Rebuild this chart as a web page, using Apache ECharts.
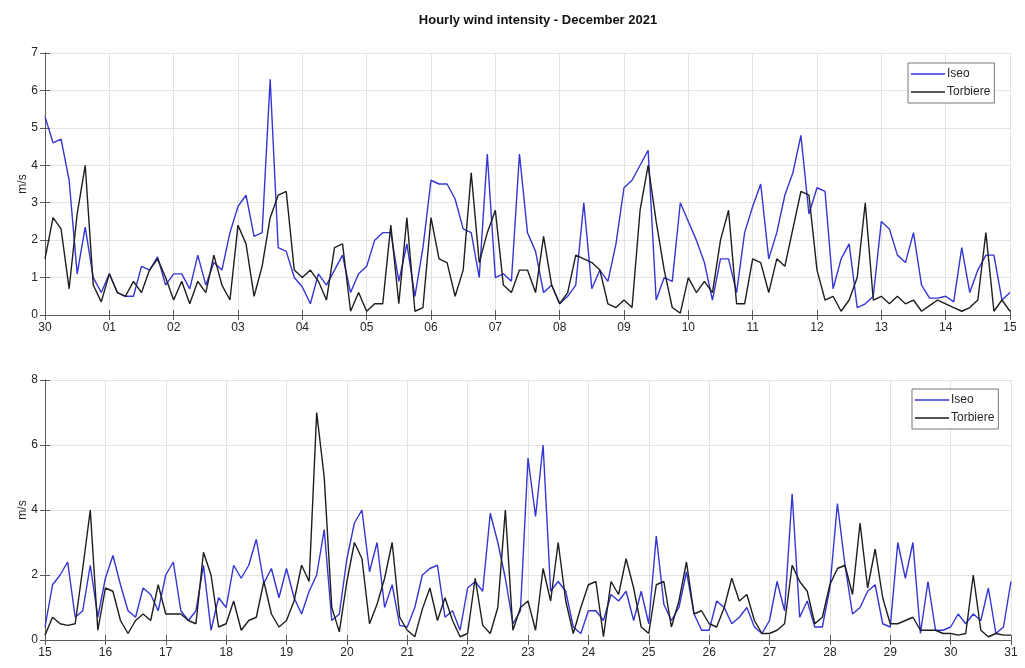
<!DOCTYPE html>
<html>
<head>
<meta charset="utf-8">
<script src="https://cdn.jsdelivr.net/npm/echarts@6/dist/echarts.min.js"></script>
<style>
  html, body { margin: 0; padding: 0; background: #fff; }
  #chart { width: 1025px; height: 668px; }
</style>
</head>
<body>
<div id="chart"></div>
<script>
// ---- data (sampled every 3 hours) ----
const stepHours = 3;
const dayLabelsTop = ['30','01','02','03','04','05','06','07','08','09','10','11','12','13','14','15'];
const dayLabelsBottom = ['15','16','17','18','19','20','21','22','23','24','25','26','27','28','29','30','31'];

// 30 Nov - 15 Dec
const iseoFirst = [5.3,4.6,4.7,3.6,1.1,2.35,1.0,0.6,
 1.1,0.6,0.5,0.5,1.3,1.2,1.55,0.8,
 1.1,1.1,0.7,1.6,0.8,1.4,1.2,2.2,
 2.9,3.2,2.1,2.2,6.3,1.8,1.7,1.0,
 0.75,0.3,1.1,0.8,1.2,1.6,0.6,1.1,
 1.3,2.0,2.2,2.2,0.9,1.9,0.5,1.8,
 3.6,3.5,3.5,3.1,2.3,2.2,1.0,4.3,
 1.0,1.1,0.9,4.3,2.2,1.7,0.6,0.8,
 0.3,0.5,0.8,3.0,0.7,1.2,0.9,1.9,
 3.4,3.6,4.0,4.4,0.4,1.0,0.9,3.0,
 2.5,2.0,1.4,0.4,1.5,1.5,0.6,2.2,
 2.9,3.5,1.5,2.2,3.2,3.8,4.8,2.7,
 3.4,3.3,0.7,1.5,1.9,0.2,0.3,0.5,
 2.5,2.3,1.6,1.4,2.2,0.8,0.45,0.45,
 0.5,0.35,1.8,0.6,1.2,1.6,1.6,0.4,
 0.6];
const torbFirst = [1.5,2.6,2.3,0.7,2.7,4.0,0.8,0.35,
 1.1,0.6,0.5,0.9,0.6,1.2,1.5,1.0,
 0.4,0.9,0.3,0.9,0.6,1.6,0.8,0.4,
 2.4,1.9,0.5,1.3,2.6,3.2,3.3,1.2,
 1.0,1.2,0.9,0.4,1.8,1.9,0.1,0.6,
 0.1,0.3,0.3,2.4,0.3,2.6,0.1,0.2,
 2.6,1.5,1.4,0.5,1.2,3.8,1.4,2.2,
 2.8,0.8,0.6,1.2,1.2,0.6,2.1,0.8,
 0.3,0.6,1.6,1.5,1.4,1.2,0.3,0.2,
 0.4,0.2,2.8,4.0,2.5,1.2,0.2,0.05,
 1.0,0.6,0.9,0.6,2.0,2.8,0.3,0.3,
 1.5,1.4,0.6,1.5,1.3,2.3,3.3,3.2,
 1.2,0.4,0.5,0.1,0.4,1.0,3.0,0.4,
 0.5,0.3,0.5,0.3,0.4,0.1,0.25,0.4,
 0.3,0.2,0.1,0.2,0.4,2.2,0.1,0.4,
 0.1];

// 15 Dec - 31 Dec
const iseoSecond = [0.4,1.7,2.0,2.4,0.7,0.9,2.3,0.7,
 1.9,2.6,1.7,0.9,0.7,1.6,1.4,0.9,
 2.0,2.4,0.9,0.6,0.9,2.3,0.3,1.3,
 1.0,2.3,1.9,2.3,3.1,1.75,2.2,1.3,
 2.2,1.3,0.8,1.5,2.0,3.4,0.6,0.8,
 2.5,3.6,4.0,2.1,3.0,1.0,1.7,0.45,
 0.4,1.0,2.0,2.2,2.3,0.7,0.9,0.3,
 1.6,1.8,1.5,3.9,3.0,1.9,0.5,0.9,
 5.6,3.8,6.0,1.5,1.8,1.5,0.4,0.2,
 0.9,0.9,0.6,1.4,1.2,1.5,0.6,1.5,
 0.5,3.2,1.1,0.6,1.0,2.1,0.8,0.3,
 0.3,1.2,1.0,0.5,0.7,1.0,0.4,0.2,
 0.6,1.8,0.9,4.5,0.7,1.2,0.4,0.4,
 1.6,4.2,2.3,0.8,1.0,1.5,1.7,0.5,
 0.4,3.0,1.9,3.0,0.2,1.8,0.3,0.3,
 0.4,0.8,0.5,0.8,0.6,1.6,0.2,0.4,
 1.8];
const torbSecond = [0.15,0.7,0.5,0.45,0.5,2.2,4.0,0.3,
 1.6,1.5,0.6,0.2,0.6,0.8,0.6,1.7,
 0.8,0.8,0.8,0.6,0.5,2.7,2.0,0.4,
 0.5,1.2,0.3,0.6,0.7,1.8,0.8,0.4,
 0.6,1.2,2.3,1.8,7.0,5.0,1.0,0.25,
 1.8,3.0,2.5,0.5,1.1,1.9,3.0,0.7,
 0.3,0.1,0.95,1.6,0.6,1.3,0.6,0.1,
 0.2,1.9,0.45,0.2,1.0,4.0,0.3,1.0,
 1.2,0.3,2.2,1.2,3.0,1.2,0.2,1.0,
 1.7,1.8,0.1,1.8,1.4,2.5,1.6,0.4,
 0.2,1.7,1.8,0.4,1.2,2.4,0.8,0.9,
 0.5,0.4,1.0,1.9,1.2,1.4,0.6,0.2,
 0.2,0.3,0.5,2.3,1.8,1.5,0.5,0.7,
 1.7,2.2,2.3,1.4,3.6,1.6,2.8,1.3,
 0.5,0.5,0.6,0.7,0.3,0.3,0.3,0.2,
 0.2,0.15,0.2,2.0,0.3,0.1,0.2,0.15,
 0.15];

const seriesNames = ['Iseo', 'Torbiere'];
const titleText = 'Hourly wind intensity - December 2021';
const unitLabel = 'm/s';

// ---- build option ----
const toPairs = vals => vals.map((v, i) => [i * stepHours / 24, v]);
const BLUE = '#3535d4';
const BLACK = '#1e1e1e';
const AXIS = '#5a5a5a';
const GRIDC = '#e3e3e3';
const FONT = 'Liberation Sans, Arial, sans-serif';

function xAxes(gridIndex, labels) {
  const base = {
    type: 'value', gridIndex, min: 0, max: labels.length - 1, interval: 1
  };
  return [
    Object.assign({}, base, {
      position: 'bottom',
      axisLine: { show: true, lineStyle: { color: AXIS } },
      axisTick: { show: true, inside: true, length: 5, lineStyle: { color: AXIS } },
      axisLabel: { color: '#262626', fontSize: 12, fontFamily: FONT, margin: 7,
        formatter: v => labels[Math.round(v)] },
      splitLine: { show: true, lineStyle: { color: GRIDC, width: 1 } }
    }),
    Object.assign({}, base, {
      position: 'top',
      axisLine: { show: true, lineStyle: { color: AXIS } },
      axisTick: { show: true, inside: true, length: 5, lineStyle: { color: AXIS } },
      axisLabel: { show: false },
      splitLine: { show: false }
    })
  ];
}
function yAxes(gridIndex, max, interval) {
  const base = { type: 'value', gridIndex, min: 0, max, interval };
  return [
    Object.assign({}, base, {
      position: 'left',
      name: unitLabel, nameLocation: 'middle', nameGap: 16, nameRotate: 90,
      nameMoveOverlap: false,
      nameTextStyle: { color: '#262626', fontSize: 12, fontFamily: FONT },
      axisLine: { show: true, lineStyle: { color: AXIS } },
      axisTick: { show: true, inside: true, length: 5, lineStyle: { color: AXIS } },
      axisLabel: { color: '#262626', fontSize: 12, fontFamily: FONT, margin: 7 },
      splitLine: { show: true, lineStyle: { color: GRIDC, width: 1 } }
    }),
    Object.assign({}, base, {
      position: 'right',
      axisLine: { show: true, lineStyle: { color: AXIS } },
      axisTick: { show: true, inside: true, length: 5, lineStyle: { color: AXIS } },
      axisLabel: { show: false },
      splitLine: { show: false }
    })
  ];
}
function lineSeries(name, data, color, xi, yi) {
  return {
    name, type: 'line', xAxisIndex: xi, yAxisIndex: yi,
    data: toPairs(data), showSymbol: false, symbol: 'none',
    lineStyle: { color, width: 1.4 }, itemStyle: { color },
    animation: false, z: name === 'Torbiere' ? 3 : 2
  };
}
function legendAt(left, top) {
  return {
    data: seriesNames.map(n => ({ name: n, icon: 'rect' })),
    orient: 'vertical', left, top,
    itemWidth: 34, itemHeight: 1.5, itemGap: 6,
    padding: [5, 4, 5, 3],
    borderColor: '#777', borderWidth: 1, backgroundColor: '#fff',
    textStyle: { color: '#262626', fontSize: 12, fontFamily: FONT, padding: [0, 0, 0, -3] }
  };
}

const option = {
  animation: false,
  backgroundColor: '#ffffff',
  title: {
    text: titleText, left: 533, top: 9, textAlign: 'center',
    textStyle: { fontSize: 13, fontWeight: 'bold', color: '#111', fontFamily: FONT }
  },
  grid: [
    { left: 45, top: 53, width: 965, height: 262, show: false },
    { left: 45, top: 380, width: 966, height: 260, show: false }
  ],
  xAxis: [...xAxes(0, dayLabelsTop), ...xAxes(1, dayLabelsBottom)],
  yAxis: [...yAxes(0, 7, 1), ...yAxes(1, 8, 2)],
  legend: [legendAt(908, 63), legendAt(912, 389)],
  series: [
    lineSeries('Iseo', iseoFirst, BLUE, 0, 0),
    lineSeries('Torbiere', torbFirst, BLACK, 0, 0),
    lineSeries('Iseo', iseoSecond, BLUE, 2, 2),
    lineSeries('Torbiere', torbSecond, BLACK, 2, 2)
  ]
};

const chart = echarts.init(document.getElementById('chart'), null, { renderer: 'canvas' });
chart.setOption(option);
</script>
</body>
</html>
